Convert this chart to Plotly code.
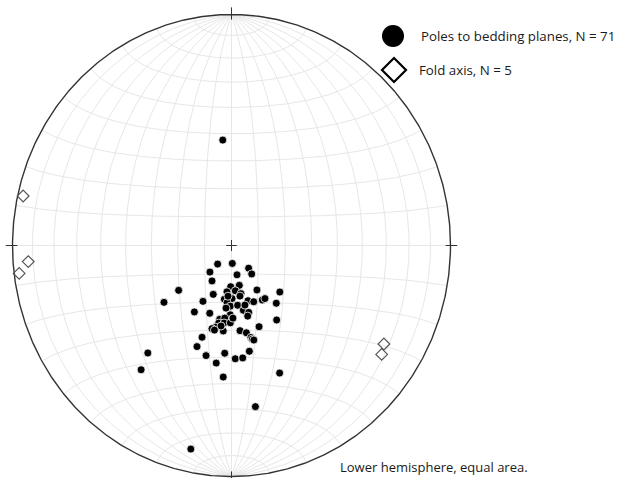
import numpy as np
import plotly.graph_objects as go

# ---------------- data (trend / plunge, degrees) ----------------
pole_trend = [218.2, 177.3, 141.5, 143.2, 220.6, 168.8, 210.1, 181.2, 168.3, 231.2,
              185.9, 174.9, 168.3, 148.9, 132.4, 201.5, 231.4, 208.3, 188.0, 179.4,
              162.5, 157.4, 149.2, 146.4, 140.7, 184.7, 181.2, 173.8, 210.5, 198.7,
              181.1, 169.1, 164.8, 166.4, 189.6, 185.6, 147.4, 189.9, 185.8, 180.9,
              191.5, 193.9, 160.3, 185.8, 174.0, 169.8, 167.4, 166.8, 198.7, 199.8,
              169.9, 219.4, 193.7, 183.8, 178.0, 174.0, 187.8, 217.5, 183.8, 158.3,
              355.0, 171.1, 191.9, 184.2, 178.8, 187.8, 166.6, 166.0, 192.0, 185.3,
              170.0]
pole_plunge = [81.7, 83.7, 79.8, 77.5, 77.7, 79.5, 75.6, 75.5, 75.7, 64.7,
               73.6, 74.0, 72.7, 71.7, 65.6, 71.5, 57.6, 67.6, 70.9, 71.3,
               69.6, 68.5, 67.6, 67.5, 63.6, 69.8, 68.6, 68.8, 62.7, 64.7,
               65.5, 66.7, 65.5, 64.3, 63.5, 64.2, 58.6, 62.1, 62.4, 62.6,
               60.4, 59.6, 59.4, 59.5, 59.6, 58.5, 56.5, 55.8, 55.5, 51.6,
               51.6, 39.6, 49.4, 51.4, 49.4, 49.5, 47.4, 32.7, 42.4, 40.3,
               52.2, 30.1, 10.9, 72.1, 64.3, 61.2, 68.4, 55.3, 59.3, 67.8,
               71.9]
axis_trend = [282.7, 265.7, 262.9, 121.5, 124.5]
axis_plunge = [2.8, 7.7, 2.6, 19.5, 17.9]

legend_labels = ["Poles to bedding planes, N = 71", "Fold axis, N = 5"]
footer_text = "Lower hemisphere, equal area."

# ---------------- layout constants ----------------
W, H = 618, 478
CX, CY = 231.5, 245.5      # pixel centre of the net
RX, RY = 219.0, 231.0      # pixel radii of the primitive circle
GRID = "#e7e7e7"
FONT = "Open Sans"


def project(trend, plunge):
    """Lower-hemisphere equal-area (Schmidt) projection, primitive radius = 1."""
    t = np.radians(np.asarray(trend, dtype=float))
    p = np.radians(np.asarray(plunge, dtype=float))
    r = np.sqrt(2.0) * np.sin((np.pi / 2 - p) / 2)
    return r * np.sin(t), r * np.cos(t)


def net_xy(lam_deg, phi_deg):
    lam = np.radians(lam_deg)
    phi = np.radians(phi_deg)
    k = np.sqrt(2.0 / (1.0 + np.cos(phi) * np.cos(lam)))
    return k * np.cos(phi) * np.sin(lam) / np.sqrt(2.0), k * np.sin(phi) / np.sqrt(2.0)


fig = go.Figure()

# ---- net grid: great circles (meridians) and small circles, 10 deg ----
gx, gy = [], []
s = np.linspace(-90, 90, 361)
for lam in range(-80, 81, 10):
    x, y = net_xy(np.full_like(s, lam), s)
    gx += list(x) + [None]
    gy += list(y) + [None]
for phi in range(-80, 81, 10):
    x, y = net_xy(s, np.full_like(s, phi))
    gx += list(x) + [None]
    gy += list(y) + [None]
fig.add_trace(go.Scatter(x=gx, y=gy, mode="lines",
                         line=dict(color=GRID, width=1),
                         hoverinfo="skip", showlegend=False))

# ---- primitive circle ----
a = np.linspace(0, 2 * np.pi, 721)
fig.add_trace(go.Scatter(x=np.cos(a), y=np.sin(a), mode="lines",
                         line=dict(color="#333333", width=1.4),
                         hoverinfo="skip", showlegend=False))

# ---- N/E/S/W ticks and centre cross ----
tx, ty = [], []
tl = 0.022
for ang in (0, 90, 180, 270):
    ux, uy = np.sin(np.radians(ang)), np.cos(np.radians(ang))
    tx += [ux * (1 - tl), ux * (1 + tl * 1.4), None]
    ty += [uy * (1 - tl), uy * (1 + tl * 1.4), None]
c = 0.024
tx += [-c, c, None, 0, 0, None]
ty += [0, 0, None, -c, c, None]
fig.add_trace(go.Scatter(x=tx, y=ty, mode="lines",
                         line=dict(color="#333333", width=1),
                         hoverinfo="skip", showlegend=False))

# ---- data ----
px, py = project(pole_trend, pole_plunge)
fig.add_trace(go.Scatter(x=px, y=py, mode="markers",
                         marker=dict(symbol="circle", size=8, color="black",
                                     line=dict(color="white", width=0.8)),
                         name=legend_labels[0], showlegend=False))
ax_, ay_ = project(axis_trend, axis_plunge)
fig.add_trace(go.Scatter(x=ax_, y=ay_, mode="markers",
                         marker=dict(symbol="diamond-open", size=9, color="#555555",
                                     line=dict(width=1.2)),
                         name=legend_labels[1], showlegend=False))

# ---- legend drawn with shapes + text ----
def pxp(x):
    return x / W


def pyp(y):
    return 1 - y / H

shapes = [
    dict(type="circle", xref="paper", yref="paper",
         x0=pxp(382), x1=pxp(404), y0=pyp(47), y1=pyp(25),
         fillcolor="black", line=dict(color="black", width=0)),
    dict(type="path", xref="paper", yref="paper",
         path="M {} {} L {} {} L {} {} L {} {} Z".format(
             pxp(394), pyp(58), pxp(406), pyp(70), pxp(394), pyp(82), pxp(382), pyp(70)),
         fillcolor="white", line=dict(color="black", width=2.2)),
]

annotations = [
    dict(text=legend_labels[0], xref="paper", yref="paper", x=pxp(419), y=pyp(36),
         xanchor="left", yanchor="middle", showarrow=False,
         font=dict(family=FONT, size=13.3, color="#1a1a1a")),
    dict(text=legend_labels[1], xref="paper", yref="paper", x=pxp(417), y=pyp(70),
         xanchor="left", yanchor="middle", showarrow=False,
         font=dict(family=FONT, size=13.3, color="#1a1a1a")),
    dict(text=footer_text, xref="paper", yref="paper", x=pxp(338), y=pyp(467),
         xanchor="left", yanchor="middle", showarrow=False,
         font=dict(family=FONT, size=13, color="#1a1a1a")),
]

fig.update_layout(
    width=W, height=H, autosize=False,
    margin=dict(l=0, r=0, t=0, b=0),
    paper_bgcolor="white", plot_bgcolor="white",
    xaxis=dict(range=[-CX / RX, (W - CX) / RX], visible=False, fixedrange=True),
    yaxis=dict(range=[-(H - CY) / RY, CY / RY], visible=False, fixedrange=True),
    shapes=shapes, annotations=annotations, showlegend=False,
)

fig.write_html("out.html")
